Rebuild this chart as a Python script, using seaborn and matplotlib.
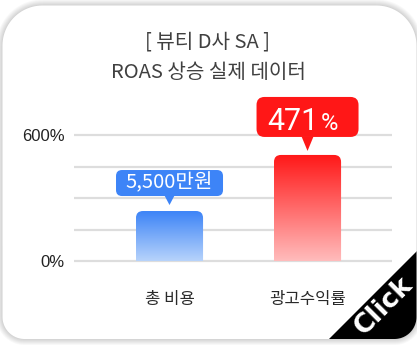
import numpy as np
import matplotlib
matplotlib.use("Agg")
import matplotlib.pyplot as plt
import seaborn as sns
from matplotlib.patches import FancyBboxPatch, Polygon, PathPatch
from matplotlib.path import Path
from matplotlib.colors import to_rgba

# ---------------- data ----------------
categories = ["총 비용", "광고수익률"]
values = [238, 505]
callout_labels = ["5,500만원", "471"]
yticks = [0, 150, 300, 450, 600]
ytick_labels = ["0%", "", "", "", "600%"]
title_lines = ["[ 뷰티 D사 SA ]", "ROAS 상승 실제 데이터"]

sns.set_theme(style="white")
plt.rcParams['font.family'] = ['Noto Sans CJK KR', 'DejaVu Sans']

W, H = 417, 346
fig = plt.figure(figsize=(W / 100, H / 100), dpi=100)
fig.patch.set_facecolor('white')

# ---------------- background card (pixel coords, y down) ----------------
bg = fig.add_axes([0, 0, 1, 1], zorder=0)
bg.set_xlim(0, W); bg.set_ylim(H, 0); bg.axis('off')


def rrect(x0, y0, x1, y1, rt, rb):
    def arc(cx, cy, r, a0, a1):
        t = np.radians(np.linspace(a0, a1, 24))
        return list(zip(cx + r * np.cos(t), cy + r * np.sin(t)))
    pts = []
    pts += arc(x0 + rt, y0 + rt, rt, 180, 270)
    pts += arc(x1 - rt, y0 + rt, rt, 270, 360)
    pts += arc(x1 - rb, y1 - rb, rb, 0, 90)
    pts += arc(x0 + rb, y1 - rb, rb, 90, 180)
    pts.append(pts[0])
    codes = [Path.MOVETO] + [Path.LINETO] * (len(pts) - 2) + [Path.CLOSEPOLY]
    return Path(pts, codes)


cx0, cy0, cx1, cy1, rt, rb = 2.5, 5.5, 416.5, 339, 40, 22
for k in range(6, 0, -1):
    bg.add_patch(PathPatch(rrect(cx0 - k, cy0 - k, cx1 + k, cy1 + k, rt + k, rb + k),
                           fc=(0, 0, 0, 0.028), ec='none'))
card = PathPatch(rrect(cx0, cy0, cx1, cy1, rt, rb), fc='white', ec='none')
bg.add_patch(card)
yy = np.linspace(0, 1, 120)[:, None]
xx = np.linspace(0, 1, 120)[None, :]
t = 0.75 * yy + 0.25 * xx
g = 1 - 0.065 * t
grad_bg = np.dstack([g, g, g])
im_bg = bg.imshow(grad_bg, extent=[cx0, cx1, cy1, cy0], origin='upper', aspect='auto')
im_bg.set_clip_path(card)
bg.set_xlim(0, W); bg.set_ylim(H, 0)

# ---------------- main axes ----------------
ylo, yhi = -12, 612
pxu = 126 / 600
ax_bottom = 261 + (0 - ylo) * pxu
ax_top = 135 - (yhi - 600) * pxu
ax = fig.add_axes([74 / W, (H - ax_bottom) / H, 318 / W, (ax_bottom - ax_top) / H], zorder=2)
ax.set_facecolor('none')

sns.barplot(x=categories, y=values, ax=ax, width=0.486, color='#4287f5')
xlim = (-0.692, 1.612)
ax.set_xlim(*xlim); ax.set_ylim(ylo, yhi)
ax.set_yticks(yticks)
ax.set_yticklabels(ytick_labels, fontfamily=['Liberation Sans', 'DejaVu Sans'],
                   fontsize=12, color='#222222')
ax.tick_params(axis='y', length=0, pad=6.5)
ax.tick_params(axis='x', length=0, pad=20, labelsize=12, labelcolor='#2a2a2a')
ax.grid(axis='y', color='#dddddd', lw=1.6)
ax.grid(axis='x', visible=False)
ax.set_axisbelow(True)
for s in ax.spines.values():
    s.set_visible(False)
ax.set_xlabel(''); ax.set_ylabel('')

o = ax.transData.transform((0, 0))
sx = ax.transData.transform((1, 0))[0] - o[0]
sy = ax.transData.transform((0, 1))[1] - o[1]

bar_colors = [("#3d84f7", "#b7d3fb"), ("#ff1717", "#ffbcbc")]
bars = list(ax.patches)
tops_px = []
for p, (ctop, cbot) in zip(bars, bar_colors):
    x0, w, h = p.get_x(), p.get_width(), p.get_height()
    r = 7 / sx
    clip = FancyBboxPatch((x0, -200), w, h + 200,
                          boxstyle=f"round,pad=0,rounding_size={r}",
                          mutation_aspect=sx / sy, transform=ax.transData,
                          fc='none', ec='none')
    ax.add_patch(clip)
    c1 = np.array(to_rgba(ctop)); c2 = np.array(to_rgba(cbot))
    tt = np.linspace(0, 1, 200)[:, None, None]
    grad = c1[None, None, :] * (1 - tt) + c2[None, None, :] * tt
    im = ax.imshow(grad, extent=[x0, x0 + w, 0, h], origin='upper', aspect='auto', zorder=3)
    im.set_clip_path(clip)
    p.set_visible(False)
    X, Y = ax.transData.transform((x0 + w / 2, h))
    tops_px.append((X, H - Y))
ax.set_xlim(*xlim); ax.set_ylim(ylo, yhi)

# ---------------- overlay (pixel coords, y down) ----------------
ov = fig.add_axes([0, 0, 1, 1], zorder=5)
ov.set_xlim(0, W); ov.set_ylim(H, 0); ov.axis('off'); ov.set_facecolor('none')

for i, line in enumerate(title_lines):
    ov.text(208, 42 + 30 * i, line, ha='center', va='center', fontsize=14.5, color='#404040')

# blue callout
bx, by = tops_px[0]
bw, bh, gap, tip = 107, 26, 15, 6
bb = by - gap
ov.add_patch(FancyBboxPatch((bx - bw / 2, bb - bh), bw, bh,
                            boxstyle="round,pad=0,rounding_size=6", fc='#3d84f7', ec='none'))
ov.add_patch(Polygon([(bx - 5, bb - 0.5), (bx + 5, bb - 0.5), (bx, by - tip)], fc='#3d84f7', ec='none'))
ov.text(bx, bb - bh / 2, callout_labels[0], ha='center', va='center', fontsize=14.5, color='white')

# red callout
rx, ry = tops_px[1]
rw, rh, gap, tip = 102, 40, 18, 4
rbb = ry - gap
ov.add_patch(FancyBboxPatch((rx - rw / 2, rbb - rh), rw, rh,
                            boxstyle="round,pad=0,rounding_size=8", fc='#ff1717', ec='none'))
ov.add_patch(Polygon([(rx - 6, rbb - 0.5), (rx + 6, rbb - 0.5), (rx, ry - tip)], fc='#ff1717', ec='none'))
ov.text(rx + 11, rbb - 7, callout_labels[1], ha='right', va='baseline', fontsize=22,
        color='white', fontfamily=['Roboto', 'DejaVu Sans'])
ov.text(rx + 13, rbb - 7, "%", ha='left', va='baseline', fontsize=17, color='white',
        fontfamily=['Roboto', 'DejaVu Sans'])

# black corner with "Click"
clip_card = PathPatch(rrect(cx0, cy0, cx1, cy1, rt, rb), transform=ov.transData, fc='none', ec='none')
corner = Polygon([(420, 248), (420, 350), (318, 350)], fc='black', ec='none')
ov.add_patch(corner)
corner.set_clip_path(clip_card)
ov.text(384, 306, "Click", rotation=45, rotation_mode='anchor', ha='center', va='center',
        fontsize=19, fontweight='bold', color='white',
        fontfamily=['DejaVu Sans'])

fig.savefig('out.png', dpi=100)
